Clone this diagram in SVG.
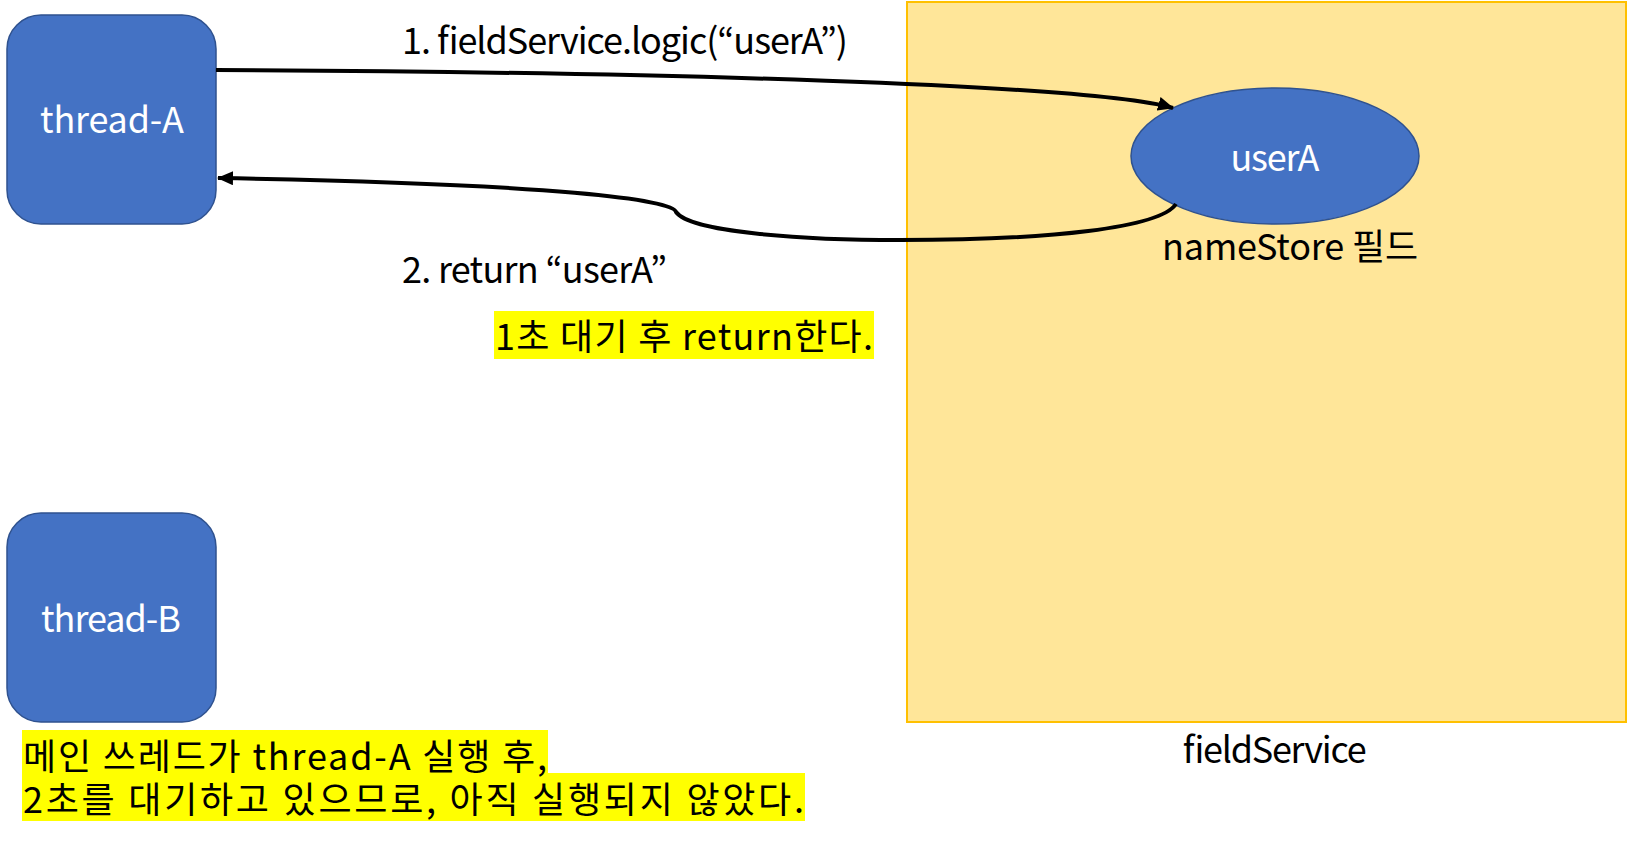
<svg xmlns="http://www.w3.org/2000/svg" width="1628" height="844" viewBox="0 0 1628 844">
<style>
text{font-family:"Noto Sans CJK KR","Noto Sans",sans-serif;font-size:36px;fill:#000}
.w{fill:#fff}
.blue{fill:#4472C4;stroke:#2F528F;stroke-width:1.5}
.hl{fill:#FFFF00}
.conn{fill:none;stroke:#000;stroke-width:4}
</style>
<defs>
<marker id="ah" markerUnits="userSpaceOnUse" viewBox="0 0 16 14" refX="15" refY="7" markerWidth="16" markerHeight="14" orient="auto">
<path d="M0,0 L16,7 L0,14 z" fill="#000"/>
</marker>
</defs>
<rect width="1628" height="844" fill="#fff"/>
<g id="fieldService">
<rect x="907" y="2" width="719" height="720" fill="#FFE699" stroke="#FFC000" stroke-width="2"/>
<text x="1274" y="763" text-anchor="middle" textLength="184">fieldService</text>
</g>
<g id="nameStore">
<ellipse class="blue" cx="1275" cy="156" rx="144" ry="68"/>
<text class="w" x="1275" y="171" text-anchor="middle" textLength="89">userA</text>
<text x="1290" y="260" text-anchor="middle" textLength="256">nameStore 필드</text>
</g>
<g id="threadA">
<rect class="blue" x="7" y="15" width="209" height="209" rx="34" ry="34"/>
<text class="w" x="112" y="133" text-anchor="middle" textLength="144">thread-A</text>
</g>
<g id="threadB">
<rect class="blue" x="7" y="513" width="209" height="209" rx="34" ry="34"/>
<text class="w" x="111" y="632" text-anchor="middle" textLength="140">thread-B</text>
</g>
<g id="connectors">
<path class="conn" d="M216 70 C650 72 1090 84 1173 108" marker-end="url(#ah)"/>
<path class="conn" d="M1176 204 C1160 228 1050 240 900 240 C800 240 690 232 676 212 C674 200 560 184 218 178" marker-end="url(#ah)"/>
</g>
<g id="labels">
<text x="402" y="54" textLength="446">1. fieldService.logic(“userA”)</text>
<text x="402" y="283" textLength="265">2. return “userA”</text>
<rect class="hl" x="494" y="311" width="380" height="48"/>
<text x="495" y="350" textLength="378">1초 대기 후 return한다.</text>
</g>
<g id="note">
<rect class="hl" x="22" y="730" width="526" height="44"/>
<rect class="hl" x="22" y="773" width="783" height="48"/>
<text x="23" y="770" textLength="524">메인 쓰레드가 thread-A 실행 후,</text>
<text x="23" y="813" textLength="781">2초를 대기하고 있으므로, 아직 실행되지 않았다.</text>
</g>
</svg>
